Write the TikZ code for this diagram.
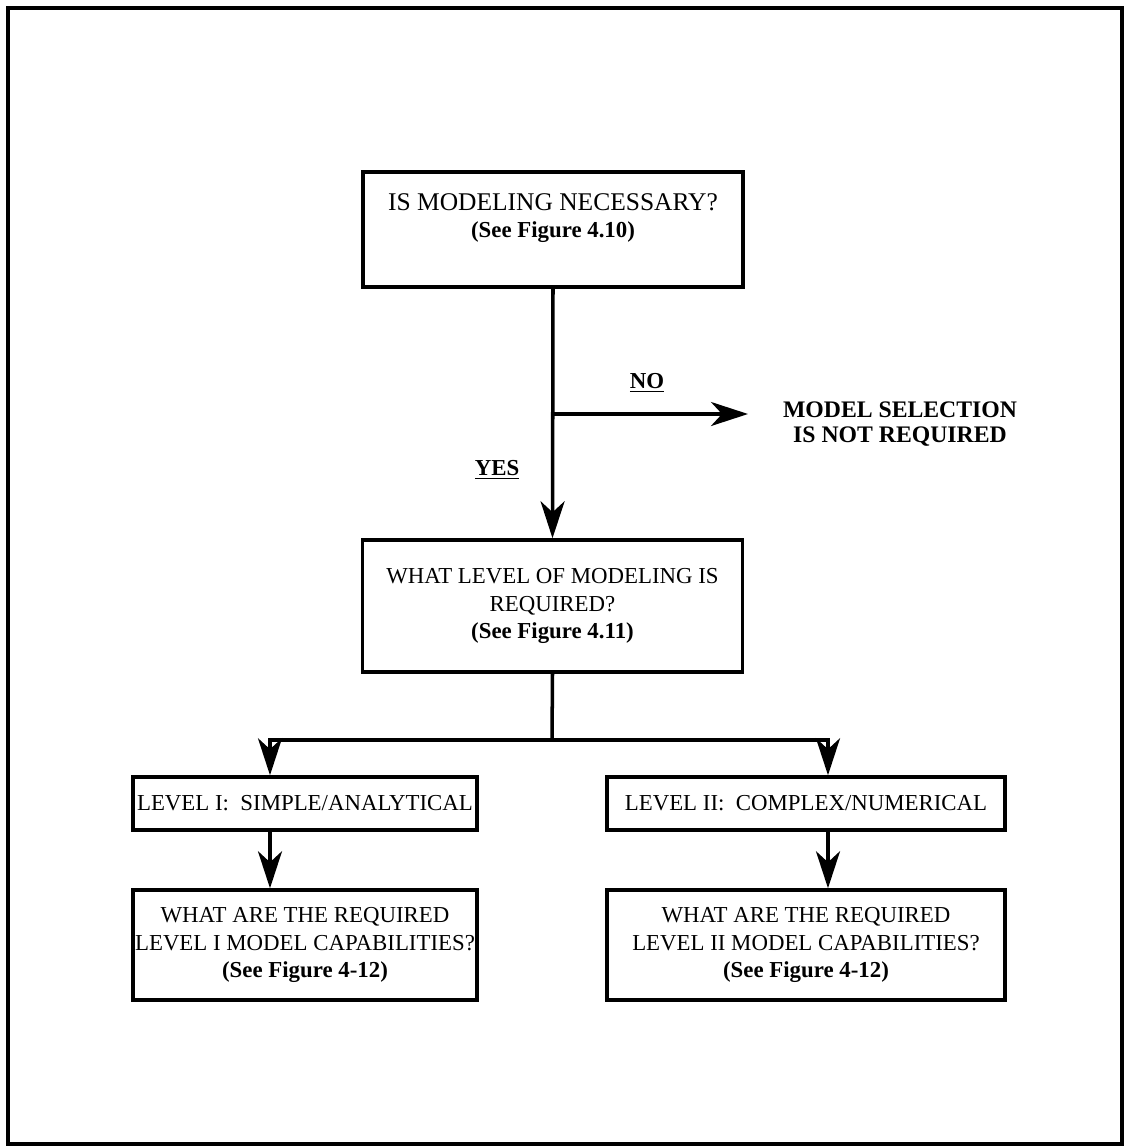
\documentclass[tikz,border=0pt]{standalone}
\usepackage{fontspec}
\setmainfont{Liberation Serif}
\usetikzlibrary{arrows.meta}

\begin{document}
\begin{tikzpicture}[
        x=0.02cm, y=-0.02cm,
        every node/.style={font=\fontsize{13}{15.5}\selectfont},
        stepbox/.style={draw, line width=2pt, align=center, inner sep=1pt},
        flow/.style={line width=2pt, -{Stealth[length=0.74cm, width=0.48cm, inset=0.22cm]}},
        link/.style={line width=2pt},
        answer/.style={font=\fontsize{13}{15.5}\selectfont\bfseries}
    ]

    % Page frame
    \useasboundingbox (0,0) rectangle (1129,1147);
    \draw[line width=2pt] (8,8) rectangle (1122,1144);

    % Question boxes down the middle
    \node[stepbox, minimum width=7.6cm, minimum height=2.3cm] (necessary) at (553,229.5)
    {\fontsize{14.5}{15.5}\selectfont IS MODELING NECESSARY?\\\textbf{(See Figure 4.10)}\\\mbox{}};

    \node[stepbox, minimum width=7.6cm, minimum height=2.64cm] (level) at (552.5,606)
    {WHAT LEVEL OF MODELING IS\\REQUIRED?\\\textbf{(See Figure 4.11)}};

    % Outcome when no model is needed
    \node[align=center, font=\fontsize{13.5}{14}\selectfont\bfseries] (notreq) at (900,424)
    {MODEL SELECTION\\IS NOT REQUIRED};

    % The two levels
    \node[stepbox, minimum width=6.88cm, minimum height=1.06cm] (simple) at (305,803.5)
    {LEVEL I:\ \ SIMPLE/ANALYTICAL};
    \node[stepbox, minimum width=7.96cm, minimum height=1.06cm] (complex) at (806,803.5)
    {LEVEL II:\ \ COMPLEX/NUMERICAL};

    % Capability questions
    \node[stepbox, minimum width=6.88cm, minimum height=2.2cm] (capone) at (305,945)
    {WHAT ARE THE REQUIRED\\LEVEL I MODEL CAPABILITIES?\\\textbf{(See Figure 4-12)}};
    \node[stepbox, minimum width=7.96cm, minimum height=2.2cm] (captwo) at (806,945)
    {WHAT ARE THE REQUIRED\\LEVEL II MODEL CAPABILITIES?\\\textbf{(See Figure 4-12)}};

    % Yes / no branch
    \coordinate (nojoint) at (553,414);
    \coordinate (noend) at (748,414);
    \draw[flow] (necessary.south) -- (level.north);
    \draw[flow] (nojoint) -- (noend);
    \node[answer] (no) at (647,383) {\underline{NO}};
    \node[answer] (yes) at (497,470) {\underline{YES}};

    % Split into the two levels
    \coordinate (split) at (552,740);
    \coordinate (leftdrop) at (270,740);
    \coordinate (rightdrop) at (828,740);
    \draw[link] (level.south) -- (split);
    \draw[flow] (split) -- (leftdrop) -- (leftdrop |- simple.north);
    \draw[flow] (split) -- (rightdrop) -- (rightdrop |- complex.north);

    % Down to the capabilities
    \draw[flow] (leftdrop |- simple.south) -- (leftdrop |- capone.north);
    \draw[flow] (rightdrop |- complex.south) -- (rightdrop |- captwo.north);

    \end{tikzpicture}
\end{document}
